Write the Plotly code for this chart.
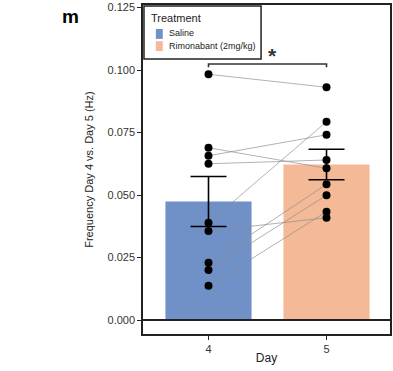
import plotly.graph_objects as go

days = [4, 5]
groups = ["Saline", "Rimonabant (2mg/kg)"]
day4_vals = [0.0983, 0.0689, 0.0657, 0.0625, 0.0389, 0.0356, 0.0229, 0.0200, 0.0137]
day5_vals = [0.0931, 0.0607, 0.0741, 0.0640, 0.0793, 0.0409, 0.0543, 0.0499, 0.0433]
means = [sum(day4_vals) / len(day4_vals), sum(day5_vals) / len(day5_vals)]
sems = [0.0100, 0.0061]
bar_colors = ["#7090c8", "#f4b996"]
sig_label = "*"
legend_title = "Treatment"
bracket_y = 0.1024
bracket_drop = 0.0013
star_y = 0.1058

fig = go.Figure()

for d, g, m, c in zip(days, groups, means, bar_colors):
    fig.add_trace(go.Bar(x=[d], y=[m], name=g, marker=dict(color=c, line=dict(width=0)),
                         width=0.73, showlegend=False))

for a, b in zip(day4_vals, day5_vals):
    fig.add_trace(go.Scatter(x=days, y=[a, b], mode="lines",
                             line=dict(color="rgba(140,140,140,0.75)", width=0.9),
                             showlegend=False, hoverinfo="skip"))

fig.add_trace(go.Scatter(x=[days[0]] * len(day4_vals) + [days[1]] * len(day5_vals),
                         y=day4_vals + day5_vals, mode="markers",
                         marker=dict(color="black", size=8), showlegend=False))

fig.add_trace(go.Scatter(x=days, y=means, mode="markers",
                         marker=dict(size=0, opacity=0),
                         error_y=dict(type="data", array=sems, visible=True,
                                      color="black", thickness=1.6, width=18),
                         showlegend=False))

# significance bracket
fig.add_shape(type="path",
              path=f"M {days[0]},{bracket_y - bracket_drop} L {days[0]},{bracket_y} L {days[1]},{bracket_y} L {days[1]},{bracket_y - bracket_drop}",
              line=dict(color="#333333", width=1.6), xref="x", yref="y")
fig.add_annotation(x=(days[0] + days[1]) / 2 + 0.04, y=star_y, text="<b>" + sig_label + "</b>", showarrow=False,
                   xref="x", yref="y", font=dict(size=21, color="#333333", family="Liberation Sans"))

# zero line
fig.add_shape(type="line", x0=0, x1=1, xref="paper", y0=0, y1=0, yref="y",
              line=dict(color="#222222", width=2))

# custom legend
fig.add_shape(type="rect", xref="paper", yref="paper", x0=0.004, x1=0.478, y0=0.836, y1=0.997,
              line=dict(color="#222222", width=1.5), fillcolor="white", layer="above")
fig.add_annotation(x=0.026, y=0.960, xref="paper", yref="paper", text=legend_title,
                   showarrow=False, xanchor="left", yanchor="middle",
                   font=dict(size=11, color="#222222", family="Liberation Sans"))
sw_y = [(0.897, 0.927), (0.860, 0.890)]
txt_y = [0.914, 0.876]
for (y0, y1), ty, g, c in zip(sw_y, txt_y, groups, bar_colors):
    fig.add_shape(type="rect", xref="paper", yref="paper", x0=0.052, x1=0.080, y0=y0, y1=y1,
                  line=dict(width=0), fillcolor=c, layer="above")
    fig.add_annotation(x=0.098, y=ty, xref="paper", yref="paper", text=g,
                       showarrow=False, xanchor="left", yanchor="middle",
                       font=dict(size=9, color="#222222", family="Liberation Sans"))

fig.add_annotation(x=-0.292, y=0.965, xref="paper", yref="paper", text="<b>m</b>",
                   showarrow=False, xanchor="center", yanchor="middle",
                   font=dict(size=19, color="black", family="Liberation Sans"))

fig.update_layout(
    width=393, height=371,
    margin=dict(l=143, r=1, t=5, b=37),
    paper_bgcolor="white", plot_bgcolor="white",
    font=dict(family="Liberation Sans", color="#222222"),
    barmode="overlay",
    showlegend=False,
    xaxis=dict(range=[3.445, 5.538], tickvals=days, ticktext=[str(d) for d in days],
               showline=True, linecolor="#222222", linewidth=1.5, mirror=True,
               ticks="outside", ticklen=4, tickcolor="#222222",
               showgrid=False, zeroline=False,
               tickfont=dict(size=11, color="#333333"),
               title=dict(text="Day", font=dict(size=12, color="#222222"), standoff=0)),
    yaxis=dict(range=[-0.0056, 0.126], tickvals=[0, 0.025, 0.05, 0.075, 0.1, 0.125],
               ticktext=["0.000", "0.025", "0.050", "0.075", "0.100", "0.125"],
               showline=True, linecolor="#222222", linewidth=1.5, mirror=True,
               ticks="outside", ticklen=4, tickcolor="#222222",
               showgrid=False, zeroline=False,
               tickfont=dict(size=11, color="#333333"),
               title=dict(text="Frequency Day 4 vs. Day 5 (Hz)", font=dict(size=11, color="#222222"), standoff=12)),
)

fig.write_html("out.html")
